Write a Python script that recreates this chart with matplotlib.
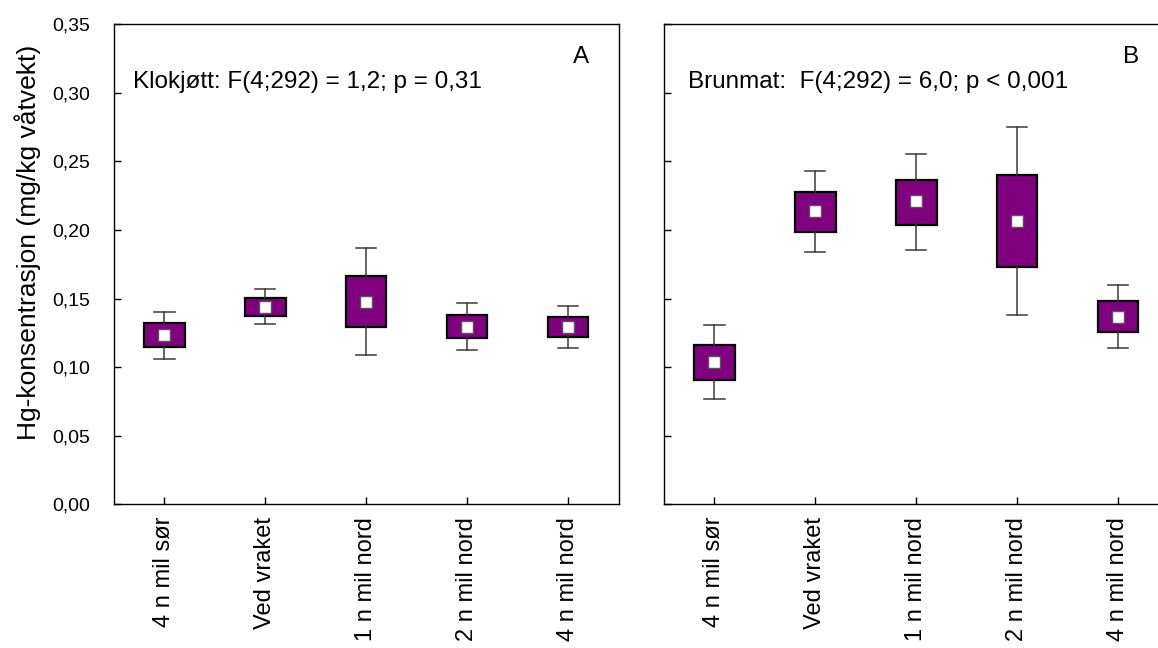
import numpy as np
import matplotlib
matplotlib.use("Agg")
import matplotlib.pyplot as plt

plt.rcParams['font.family'] = ['Liberation Sans', 'DejaVu Sans']

stations = ["4 n mil sør", "Ved vraket", "1 n mil nord", "2 n mil nord", "4 n mil nord"]

# Klokjøtt (panel A)
a_mean = [0.1235, 0.1436, 0.1477, 0.1295, 0.1295]
a_box_lo = [0.1150, 0.1373, 0.1291, 0.1213, 0.1218]
a_box_hi = [0.1320, 0.1502, 0.1667, 0.1380, 0.1368]
a_whis_lo = [0.1060, 0.1313, 0.1091, 0.1125, 0.1140]
a_whis_hi = [0.1404, 0.1568, 0.1866, 0.1470, 0.1446]

# Brunmat (panel B)
b_mean = [0.1036, 0.2135, 0.2208, 0.2067, 0.1366]
b_box_lo = [0.0907, 0.1985, 0.2036, 0.1730, 0.1256]
b_box_hi = [0.1162, 0.2276, 0.2364, 0.2402, 0.1482]
b_whis_lo = [0.0768, 0.1839, 0.1856, 0.1380, 0.1140]
b_whis_hi = [0.1307, 0.2429, 0.2553, 0.2752, 0.1601]

yticks = [0.00, 0.05, 0.10, 0.15, 0.20, 0.25, 0.30, 0.35]
purple = "#800080"


def make_stats(mean, lo, hi, wlo, whi):
    out = []
    for i in range(len(mean)):
        out.append(dict(med=mean[i], mean=mean[i], q1=lo[i], q3=hi[i],
                        whislo=wlo[i], whishi=whi[i], fliers=[]))
    return out


fig = plt.figure(figsize=(11.58, 6.48), dpi=100)
axA = fig.add_axes([0.0984, 0.2215, 0.4358, 0.7415])
axB = fig.add_axes([0.5734, 0.2215, 0.4358, 0.7415])

panels = [
    (axA, make_stats(a_mean, a_box_lo, a_box_hi, a_whis_lo, a_whis_hi),
     "Klokjøtt: F(4;292) = 1,2; p = 0,31", 0.038, 0.879, "A"),
    (axB, make_stats(b_mean, b_box_lo, b_box_hi, b_whis_lo, b_whis_hi),
     "Brunmat:  F(4;292) = 6,0; p < 0,001", 0.047, 0.879, "B"),
]

for ax, stats, txt, tx, ty, letter in panels:
    ax.bxp(stats, positions=np.arange(len(stations)), widths=0.4, capwidths=0.2,
           patch_artist=True, showmeans=True, showfliers=False,
           boxprops=dict(facecolor=purple, edgecolor="black", linewidth=1.6),
           whiskerprops=dict(color="#3a3a3a", linewidth=1.1),
           capprops=dict(color="#3a3a3a", linewidth=1.1),
           medianprops=dict(linewidth=0),
           meanprops=dict(marker="s", markerfacecolor="white",
                          markeredgecolor="#555555", markersize=8,
                          markeredgewidth=1.0))
    ax.set_xlim(-0.5, len(stations) - 0.5)
    ax.set_ylim(0, 0.35)
    ax.set_yticks(yticks)
    ax.set_xticks(np.arange(len(stations)))
    ax.set_xticklabels(stations, rotation=90, fontsize=17)
    ax.tick_params(direction="in", length=5, width=1)
    ax.tick_params(axis="x", pad=9)
    ax.tick_params(axis="y", labelsize=14, pad=17)
    for s in ax.spines.values():
        s.set_linewidth(1.0)
    ax.text(tx, ty, txt, transform=ax.transAxes, fontsize=17.5,
            ha="left", va="center")
    ax.text(0.926, 0.931, letter, transform=ax.transAxes, fontsize=17.5,
            ha="center", va="center")

axA.set_yticklabels([f"{v:.2f}".replace(".", ",") for v in yticks])
axB.set_yticklabels([])

fig.text(28 / 1158, 1 - 242 / 648, "Hg-konsentrasjon (mg/kg våtvekt)",
         rotation=90, ha="center", va="center", fontsize=19)

fig.savefig("out.png", dpi=100)
